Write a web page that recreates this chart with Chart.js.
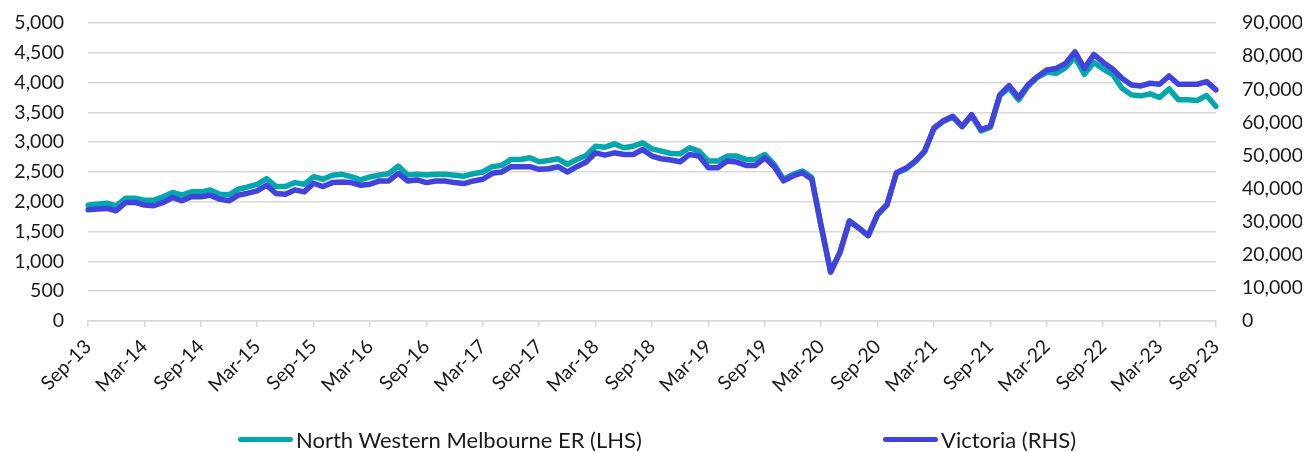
<!DOCTYPE html>
<html>
<head>
<meta charset="utf-8">
<script src="https://cdn.jsdelivr.net/npm/chart.js@4.4.1/dist/chart.umd.min.js"></script>
<style>
  html, body { margin:0; padding:0; background:#fff; overflow:hidden; }
  #wrap { position:relative; width:1314px; height:452px; }
  #legend { position:absolute; left:0; top:426px; width:1314px; height:28px; font-family:Lato, "Open Sans", sans-serif; font-size:22px; color:#1a1a1a; }
  .item { position:absolute; top:0; display:flex; align-items:center; white-space:nowrap; }
  .mark { display:inline-block; width:55px; height:5px; border-radius:3px; margin-right:3px; }
</style>
</head>
<body>
<div id="wrap">
  <canvas id="c" width="1314" height="452"></canvas>
  <div id="legend"></div>
</div>
<script>
const months = [
 "Sep-13","Oct-13","Nov-13","Dec-13",
 "Jan-14","Feb-14","Mar-14","Apr-14","May-14","Jun-14","Jul-14","Aug-14","Sep-14","Oct-14","Nov-14","Dec-14",
 "Jan-15","Feb-15","Mar-15","Apr-15","May-15","Jun-15","Jul-15","Aug-15","Sep-15","Oct-15","Nov-15","Dec-15",
 "Jan-16","Feb-16","Mar-16","Apr-16","May-16","Jun-16","Jul-16","Aug-16","Sep-16","Oct-16","Nov-16","Dec-16",
 "Jan-17","Feb-17","Mar-17","Apr-17","May-17","Jun-17","Jul-17","Aug-17","Sep-17","Oct-17","Nov-17","Dec-17",
 "Jan-18","Feb-18","Mar-18","Apr-18","May-18","Jun-18","Jul-18","Aug-18","Sep-18","Oct-18","Nov-18","Dec-18",
 "Jan-19","Feb-19","Mar-19","Apr-19","May-19","Jun-19","Jul-19","Aug-19","Sep-19","Oct-19","Nov-19","Dec-19",
 "Jan-20","Feb-20","Mar-20","Apr-20","May-20","Jun-20","Jul-20","Aug-20","Sep-20","Oct-20","Nov-20","Dec-20",
 "Jan-21","Feb-21","Mar-21","Apr-21","May-21","Jun-21","Jul-21","Aug-21","Sep-21","Oct-21","Nov-21","Dec-21",
 "Jan-22","Feb-22","Mar-22","Apr-22","May-22","Jun-22","Jul-22","Aug-22","Sep-22","Oct-22","Nov-22","Dec-22",
 "Jan-23","Feb-23","Mar-23","Apr-23","May-23","Jun-23","Jul-23","Aug-23","Sep-23"
];

const seriesNames = ["North Western Melbourne ER (LHS)", "Victoria (RHS)"];

const northWestern = [
 1944,1961,1978,1933,2061,2061,2028,2028,2083,2156,2111,2167,2167,2200,2128,2117,2211,2250,2294,2389,
 2256,2256,2322,2294,2422,2378,2444,2461,2422,2367,2417,2450,2472,2600,2450,2461,2450,2461,2461,2444,
 2430,2472,2500,2589,2611,2711,2711,2739,2672,2694,2722,2628,2711,2778,2933,2917,2972,2906,2933,2989,
 2889,2850,2811,2806,2906,2850,2683,2683,2767,2767,2711,2711,2794,2628,2378,2461,2517,2406,1580,822,
 1150,1683,1560,1433,1780,1950,2480,2550,2670,2840,3230,3350,3420,3260,3450,3190,3250,3780,3906,3711,
 3940,4090,4172,4156,4250,4428,4139,4339,4228,4139,3906,3794,3778,3811,3750,3894,3711,3711,3700,3783,
 3600
];

const victoria = [
 33600,33800,34000,33300,35800,35800,35000,34800,35800,37300,36300,37500,37500,38000,36800,36300,38000,38600,39300,41000,
 38500,38300,39600,39000,41600,40600,41800,42000,41800,41000,41300,42300,42300,44600,42300,42600,41800,42300,42300,41800,
 41500,42300,42800,44600,45000,46600,46600,46600,45800,46000,46600,45000,46600,48000,50800,50100,50800,50300,50300,51800,
 49800,49000,48600,48100,50300,49800,46300,46300,48300,48000,47000,47000,49300,46600,42300,43800,44800,42800,28700,14800,
 20800,30100,28100,25800,32300,35100,44800,46100,48300,51300,58300,60500,61800,58800,62300,57800,58800,68300,71100,67500,
 71300,73800,75800,76300,77800,81300,76300,80500,78100,76100,73300,71300,71000,71800,71500,74000,71500,71500,71500,72300,
 69800
];

const colors = ["#05A7AD", "#4242DC"];

const FONT = { family: 'Lato, "Open Sans", sans-serif', size: 19.5 };
const TXT = '#1a1a1a';
const GRID = '#d9d9d9';

new Chart(document.getElementById('c'), {
  type: 'line',
  data: {
    labels: months,
    datasets: [
      { label: seriesNames[1], data: victoria, yAxisID: 'y1', borderColor: colors[1], backgroundColor: colors[1],
        borderWidth: 5.5, pointRadius: 0, pointHoverRadius: 0, tension: 0, borderJoinStyle: 'round', borderCapStyle: 'round', order: 0 },
      { label: seriesNames[0], data: northWestern, yAxisID: 'y', borderColor: colors[0], backgroundColor: colors[0],
        borderWidth: 5.5, pointRadius: 0, pointHoverRadius: 0, tension: 0, borderJoinStyle: 'round', borderCapStyle: 'round', order: 1 }
    ]
  },
  options: {
    responsive: false,
    animation: false,
    layout: { autoPadding: false, padding: { left: 13, right: 12, top: 23, bottom: 56 } },
    plugins: { legend: { display: false }, tooltip: { enabled: false } },
    scales: {
      x: {
        offset: false,
        afterFit: s => { s.paddingLeft = 0; s.paddingRight = 0; s.height = 75; },
        grid: { drawOnChartArea: false, drawTicks: true, tickLength: 6, color: GRID, lineWidth: 1.5 },
        border: { color: GRID, width: 1.5 },
        ticks: {
          autoSkip: false, maxRotation: 45, minRotation: 45, padding: 8, font: FONT, color: TXT,
          callback: function(v, i) { return i % 6 === 0 ? months[i] : null; }
        }
      },
      y: {
        position: 'left', min: 0, max: 5000,
        afterFit: s => { s.paddingTop = 0; s.paddingBottom = 0; s.width = 75; },
        grid: { color: GRID, lineWidth: 1.5, drawTicks: false },
        border: { display: false },
        ticks: { stepSize: 500, padding: 24, font: FONT, color: TXT,
          callback: v => v.toLocaleString('en-US') }
      },
      y1: {
        position: 'right', min: 0, max: 90000,
        afterFit: s => { s.paddingTop = 0; s.paddingBottom = 0; s.width = 86; },
        grid: { drawOnChartArea: false, drawTicks: false },
        border: { display: false },
        ticks: { stepSize: 10000, padding: 26, font: FONT, color: TXT,
          callback: v => v.toLocaleString('en-US') }
      }
    }
  }
});

// HTML legend
const legend = document.getElementById('legend');
const legendX = [238, 883];
seriesNames.forEach((name, i) => {
  const it = document.createElement('div');
  it.className = 'item';
  it.style.left = legendX[i] + 'px';
  const m = document.createElement('span');
  m.className = 'mark';
  m.style.background = colors[i];
  const t = document.createElement('span');
  t.textContent = name;
  it.appendChild(m); it.appendChild(t);
  legend.appendChild(it);
});
</script>
</body>
</html>
